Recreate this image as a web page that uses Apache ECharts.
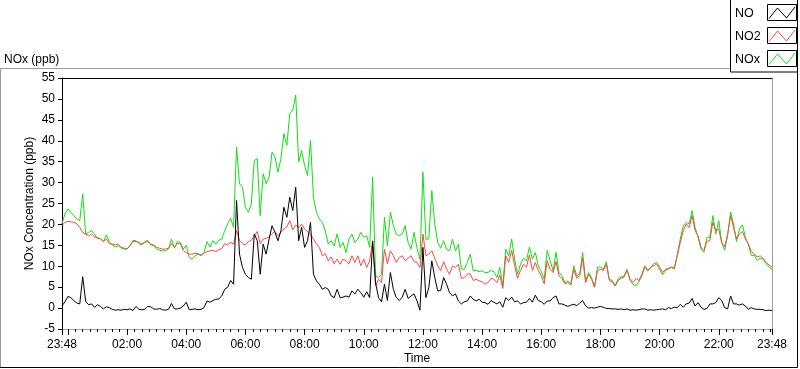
<!DOCTYPE html>
<html>
<head>
<meta charset="utf-8">
<script src="https://cdn.jsdelivr.net/npm/echarts@6/dist/echarts.min.js"></script>
<style>html,body{margin:0;padding:0;background:#fff;}#c{width:800px;height:369px;}</style>
</head>
<body>
<div id="c"></div>
<script>
// time axis: minutes since midnight of the start day; first sample at 23:48 (-12), one sample every 6 min
const START_MIN = -12;
const STEP_MIN = 6;
const END_MIN = 1428;

const seriesNames = ['NO', 'NO2', 'NOx'];

const NO = [
0.5,1.5,2.8,2.5,1.8,1.2,1.0,7.5,1.6,0.8,1.0,0.2,0.8,0.4,-0.2,0.3,0.1,-0.3,-0.5,-0.4,-0.5,-0.3,-0.4,-0.2,-0.6,0.4,-0.3,-0.4,-0.3,0.4,0.3,-0.2,-0.3,-0.1,-0.4,-0.5,-0.3,1.1,-0.2,-0.2,0.0,0.5,1.4,-0.4,-0.3,-0.2,-0.4,-0.3,0.1,
1.7,1.4,1.8,2.1,2.2,2.9,4.5,5.0,6.6,5.7,25.7,12.9,9.7,8.1,7.3,6.9,17.7,16.1,8.1,15.3,12.9,16.5,19.7,18.1,16.1,18.5,24.1,21.7,26.5,23.3,28.9,16.1,19.3,14.5,16.1,20.5,8.1,6.5,5.7,4.5,4.9,4.5,2.9,2.5,4.5,2.5,2.6,2.9,
2.6,4.1,3.4,4.5,3.7,2.6,3.9,2.5,16.0,6.0,2.5,1.5,5.7,1.8,8.5,4.5,2.5,1.8,2.6,4.5,2.3,2.9,3.4,1.7,-0.5,14.5,2.5,4.9,11.3,7.3,4.1,4.2,7.3,5.7,3.7,2.9,3.4,1.7,1.0,1.5,1.7,2.9,2.1,1.7,2.1,1.4,1.3,0.9,
1.8,1.4,1.0,1.5,0.2,2.5,1.8,2.6,1.5,1.7,1.0,1.3,1.4,2.3,1.4,3.1,1.8,1.5,0.9,1.7,1.7,2.5,2.9,1.0,1.0,0.7,0.4,0.7,0.9,0.6,1.2,1.8,0.5,0.0,0.1,0.0,0.2,0.4,0.2,-0.1,-0.1,-0.2,-0.2,-0.3,-0.2,-0.4,-0.2,-0.5,
-0.4,-0.5,-0.4,-0.2,-0.2,-0.5,-0.4,-0.5,-0.4,-0.3,-0.2,-0.4,0.1,-0.1,0.2,0.1,0.9,0.2,1.0,1.2,2.3,0.5,1.3,0.2,-0.3,-0.1,1.0,1.0,1.3,2.5,1.8,0.1,-0.2,2.9,1.0,1.0,0.7,1.0,0.5,-0.3,0.1,-0.2,-0.3,-0.3,-0.4,-0.6,-0.5,-0.6
];

const NO2 = [
19.7,20.5,20.7,20.6,20.5,20.2,19.3,18.1,17.7,17.3,17.7,17.0,16.9,16.5,15.9,16.5,15.4,15.3,15.1,15.3,14.6,14.3,14.2,14.9,15.9,15.9,15.7,15.3,15.7,15.9,15.3,15.1,14.5,14.3,14.1,14.1,14.3,15.4,14.6,15.4,15.4,13.8,13.3,12.9,12.9,13.1,13.0,12.7,13.1,
13.5,13.7,13.8,13.5,14.0,14.2,15.4,15.1,15.7,15.3,18.5,16.1,15.4,15.1,15.9,16.2,17.3,18.3,15.4,16.5,16.7,17.0,17.8,18.3,17.3,18.1,18.9,19.4,20.9,18.7,19.8,19.3,20.1,18.9,18.3,17.7,16.5,15.4,14.5,12.5,13.0,11.3,12.2,10.6,11.7,10.5,11.7,11.3,
10.6,12.5,10.9,12.5,10.1,11.7,9.7,11.3,16.1,5.3,6.9,6.1,14.1,10.6,13.7,12.5,10.9,12.1,12.5,11.3,11.9,12.5,11.1,10.9,9.7,17.7,12.5,12.9,13.7,11.9,10.1,9.0,11.1,9.3,8.1,10.1,9.7,10.5,7.1,7.3,8.1,8.2,6.6,6.9,6.5,6.3,5.7,6.1,
7.1,6.9,6.1,7.9,4.7,12.5,10.9,13.8,10.1,7.1,9.0,10.5,9.8,12.7,9.0,10.9,9.0,7.7,5.8,11.3,9.3,8.5,11.1,7.7,7.1,5.8,6.1,5.5,9.3,7.1,7.7,11.9,6.1,8.1,6.9,5.0,8.9,9.3,9.0,10.5,6.6,6.3,5.3,6.6,7.1,7.4,9.0,6.9,
6.1,7.1,6.6,8.1,10.1,9.0,9.7,10.6,10.9,9.8,8.5,9.3,9.5,9.8,9.7,12.5,15.7,18.5,20.1,19.3,22.1,18.5,17.3,14.5,13.8,15.9,16.2,20.5,18.5,18.9,15.7,14.6,17.7,22.1,19.3,16.5,17.7,18.3,16.5,15.3,13.5,13.0,12.2,12.5,11.9,10.9,10.3,9.8
];

const NOx = [
20.2,22.5,23.7,22.9,22.1,21.3,20.9,27.3,17.7,18.1,18.5,17.7,16.5,16.7,15.9,17.5,15.9,15.1,14.6,14.9,14.3,14.1,14.1,14.9,16.2,16.1,15.4,15.1,15.9,16.2,15.1,14.9,14.1,13.8,13.7,13.7,14.1,16.5,14.3,15.9,15.7,14.1,15.0,12.1,11.7,12.5,12.9,12.5,13.3,
15.9,14.6,16.1,15.3,16.2,16.5,18.5,20.2,21.5,19.3,38.5,29.7,28.9,24.1,22.9,24.9,35.3,35.7,22.1,32.1,29.7,31.3,37.3,36.1,32.5,35.7,41.7,38.9,46.5,47.3,50.9,34.9,37.6,34.1,31.7,40.1,26.5,22.9,21.3,20.5,18.5,15.3,16.1,14.9,17.7,14.5,15.7,13.3,
16.5,17.7,15.7,16.5,18.1,16.9,17.3,14.5,31.3,7.7,7.3,8.1,21.7,14.9,22.9,19.7,17.7,17.3,17.7,19.7,15.7,14.1,18.1,14.3,11.7,32.5,16.5,16.5,28.1,20.1,15.7,14.3,16.1,14.1,13.7,16.5,13.7,15.3,9.3,9.3,10.9,12.9,8.9,9.0,8.7,8.9,8.5,8.5,
9.0,8.7,7.3,9.7,5.3,14.1,12.5,16.5,11.7,8.1,10.5,11.9,11.3,14.6,11.7,13.3,10.1,8.7,6.9,13.8,11.3,8.9,13.3,8.5,7.7,6.1,6.5,5.8,10.1,7.7,8.2,13.3,6.5,8.5,7.3,5.0,9.8,9.8,9.3,11.1,6.9,6.6,5.3,7.1,7.4,7.7,9.3,6.6,
5.7,5.3,6.3,7.7,9.7,8.9,9.7,10.1,10.5,9.3,7.9,9.0,9.3,9.7,9.3,12.9,16.5,19.7,20.5,20.1,23.3,19.3,16.9,14.1,13.3,16.9,16.9,22.1,17.7,20.9,15.7,13.8,17.3,23.0,20.1,15.9,18.9,19.9,16.9,15.3,12.5,12.7,11.4,11.9,11.7,10.6,9.8,9.3
];

// x tick labels (minutes since midnight -> label)
const tickLabelMinutes = [-12, 120, 240, 360, 480, 600, 720, 840, 960, 1080, 1200, 1320, 1428];
const tickLabelTexts = ['23:48','02:00','04:00','06:00','08:00','10:00','12:00','14:00','16:00','18:00','20:00','22:00','23:48'];
const majorTickMinutes = [-12, 0, 120, 240, 360, 480, 600, 720, 840, 960, 1080, 1200, 1320, 1428];
const MINOR_TICK_STEP = 15;

// y axis
const Y_MIN = -5, Y_MAX = 55, Y_STEP = 5;

const minorTicks = [];
for (let m = 0; m <= END_MIN; m += MINOR_TICK_STEP) minorTicks.push(m);

function toPairs(arr) {
  return arr.map((v, i) => [START_MIN + i * STEP_MIN, v]);
}

const FONT = '"Liberation Sans", Arial, sans-serif';
const chart = echarts.init(document.getElementById('c'), null, {renderer: 'canvas'});

const legendTop = [4.5, 27.5, 50.5];
const legendColors = ['#000000', '#ff4545', '#10e010'];
const legendGraphics = [];
legendGraphics.push({type: 'rect', shape: {x: 730.5, y: -2, width: 67, height: 74}, style: {fill: '#fff', stroke: '#000', lineWidth: 1}, z: 100});
seriesNames.forEach((n, k) => {
  const t = legendTop[k];
  legendGraphics.push({type: 'text', x: 735, y: t + 9, style: {text: n, fill: '#000', font: '12.5px ' + FONT, textVerticalAlign: 'middle'}, z: 101});
  legendGraphics.push({type: 'rect', shape: {x: 767.5, y: t, width: 29, height: 16}, style: {fill: '#fff', stroke: '#000', lineWidth: 1}, z: 101});
  legendGraphics.push({type: 'polyline', shape: {points: [[769, t + 14], [777.5, t + 3.5], [786.5, t + 13.5], [795, t + 2.5]]}, style: {stroke: legendColors[k], lineWidth: 1, fill: null}, z: 102});
});

const GRID = {left: 62, right: 28, top: 78, bottom: 40, containLabel: false, outerBoundsMode: 'none'};
const option = {
  animation: false,
  backgroundColor: '#fff',
  textStyle: {fontFamily: FONT},
  grid: [Object.assign({}, GRID), Object.assign({}, GRID)],
  graphic: [
    {type: 'polyline', shape: {points: [[0.5, 368], [0.5, 68.5], [731, 68.5]]}, style: {stroke: '#9a9a9a', lineWidth: 1, fill: null}},
    {type: 'polyline', shape: {points: [[0, 367.5], [797.5, 367.5], [797.5, 72]]}, style: {stroke: '#000', lineWidth: 1, fill: null}},
    {type: 'text', x: 4, y: 60, style: {text: 'NOx (ppb)', fill: '#000', font: '12px ' + FONT, textVerticalAlign: 'middle'}}
  ].concat(legendGraphics),
  xAxis: [
    {
      type: 'value', gridIndex: 0, min: START_MIN, max: END_MIN, position: 'bottom',
      name: 'Time', nameLocation: 'middle', nameGap: 24, nameMoveOverlap: false,
      nameTextStyle: {color: '#000', fontSize: 12},
      axisLine: {show: true, onZero: false, lineStyle: {color: '#a0a0a0', width: 1}},
      axisTick: {show: true, customValues: majorTickMinutes, length: 6, lineStyle: {color: '#000'}},
      axisLabel: {show: true, customValues: tickLabelMinutes, color: '#000', fontSize: 12, margin: 10,
        formatter: v => { const k = tickLabelMinutes.indexOf(v); return k >= 0 ? tickLabelTexts[k] : ''; }},
      splitLine: {show: false}
    },
    {
      type: 'value', gridIndex: 0, min: START_MIN, max: END_MIN, position: 'top',
      axisLine: {show: true, onZero: false, lineStyle: {color: '#000', width: 1}},
      axisTick: {show: false}, axisLabel: {show: false}, splitLine: {show: false}
    },
    {
      type: 'value', gridIndex: 1, min: START_MIN, max: END_MIN, position: 'bottom',
      axisLine: {show: false, onZero: false},
      axisTick: {show: true, customValues: minorTicks, length: 3, lineStyle: {color: '#000'}},
      axisLabel: {show: false},
      splitLine: {show: false}
    }
  ],
  yAxis: [
    {
      type: 'value', gridIndex: 0, min: Y_MIN, max: Y_MAX, interval: Y_STEP, position: 'left',
      name: 'NOx Concentration (ppb)', nameLocation: 'middle', nameGap: 26, nameMoveOverlap: false,
      nameTextStyle: {color: '#000', fontSize: 12},
      axisLine: {show: true, onZero: false, lineStyle: {color: '#000', width: 1}},
      axisTick: {show: true, length: 4, lineStyle: {color: '#000'}},
      axisLabel: {color: '#000', fontSize: 12, margin: 7},
      splitLine: {show: false}
    },
    {
      type: 'value', gridIndex: 0, min: Y_MIN, max: Y_MAX, position: 'right',
      axisLine: {show: true, onZero: false, lineStyle: {color: '#a0a0a0', width: 1}},
      axisTick: {show: false}, axisLabel: {show: false}, splitLine: {show: false}
    },
    {
      type: 'value', gridIndex: 1, min: Y_MIN, max: Y_MAX, show: false
    }
  ],
  series: [
    {name: 'NOx', type: 'line', xAxisIndex: 0, yAxisIndex: 0, data: toPairs(NOx), showSymbol: false, symbol: 'none', lineStyle: {color: legendColors[2], width: 1}, itemStyle: {color: legendColors[2]}, z: 2},
    {name: 'NO2', type: 'line', xAxisIndex: 0, yAxisIndex: 0, data: toPairs(NO2), showSymbol: false, symbol: 'none', lineStyle: {color: legendColors[1], width: 1}, itemStyle: {color: legendColors[1]}, z: 3},
    {name: 'NO', type: 'line', xAxisIndex: 0, yAxisIndex: 0, data: toPairs(NO), showSymbol: false, symbol: 'none', lineStyle: {color: legendColors[0], width: 1}, itemStyle: {color: legendColors[0]}, z: 4}
  ]
};
chart.setOption(option);
</script>
</body>
</html>
